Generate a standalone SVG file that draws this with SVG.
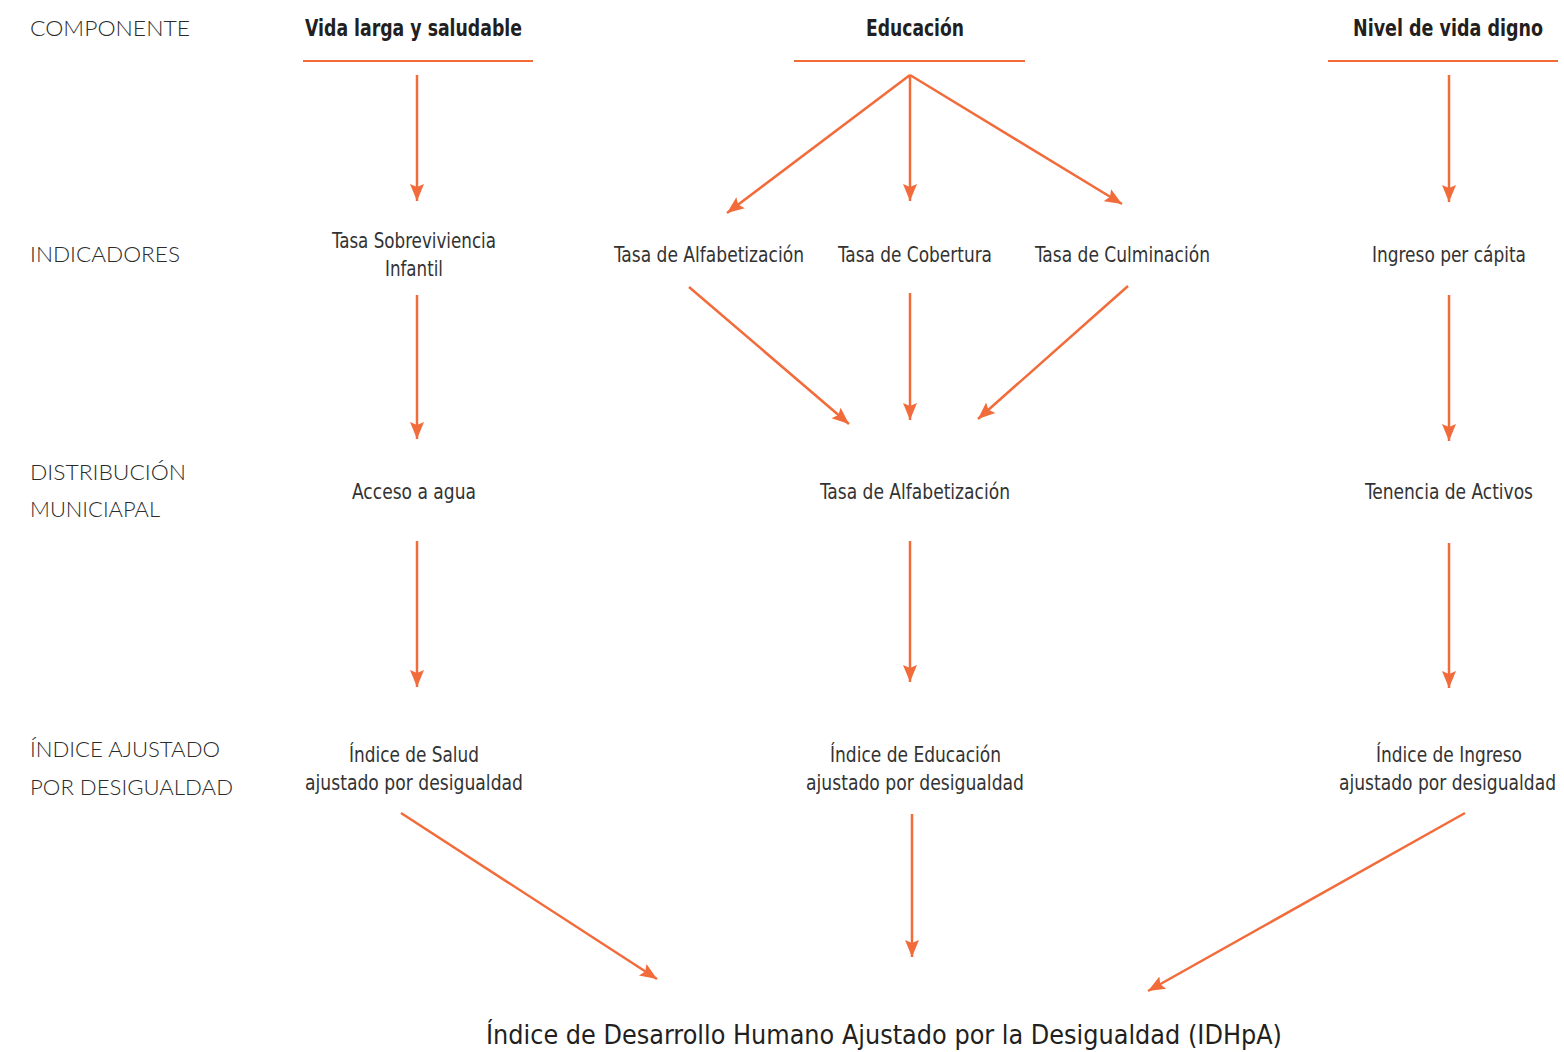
<svg xmlns="http://www.w3.org/2000/svg" width="1564" height="1052" viewBox="0 0 1564 1052">
<style>
.lab{font-family:"Lato","Open Sans",sans-serif;font-weight:300;font-size:22px;fill:#2b2b2b;}
.hd{font-family:"Liberation Sans Narrow","DejaVu Sans Condensed","Liberation Sans",sans-serif;font-weight:bold;font-size:23px;fill:#231f20;text-anchor:middle;}
.t{font-family:"Liberation Sans Narrow","DejaVu Sans Condensed","Liberation Sans",sans-serif;font-size:22px;fill:#333;text-anchor:middle;}
.big{font-family:"Liberation Sans Narrow","DejaVu Sans Condensed","Liberation Sans",sans-serif;font-size:26px;fill:#231f20;text-anchor:middle;}
.ul{stroke:#F26B3A;stroke-width:2;fill:none;}
.ar{stroke:#F26B3A;stroke-width:2.5;fill:none;marker-end:url(#ah);}
</style>
<defs>
<marker id="ah" markerUnits="userSpaceOnUse" markerWidth="18" markerHeight="16" refX="17" refY="8" orient="auto">
<path d="M0,1 L17,8 L0,15 L3,8 Z" fill="#F26B3A"/>
</marker>
</defs>
<rect width="1564" height="1052" fill="#fff"/>
<g id="left-labels">
<text class="lab" x="30" y="36" textLength="160" lengthAdjust="spacingAndGlyphs">COMPONENTE</text>
<text class="lab" x="30" y="262" textLength="150" lengthAdjust="spacingAndGlyphs">INDICADORES</text>
<text class="lab" x="30" y="480" textLength="156" lengthAdjust="spacingAndGlyphs">DISTRIBUCIÓN</text>
<text class="lab" x="30" y="517" textLength="130" lengthAdjust="spacingAndGlyphs">MUNICIAPAL</text>
<text class="lab" x="30" y="757" textLength="190" lengthAdjust="spacingAndGlyphs">ÍNDICE AJUSTADO</text>
<text class="lab" x="30" y="795" textLength="203" lengthAdjust="spacingAndGlyphs">POR DESIGUALDAD</text>
</g>
<g id="n-vida"><text class="hd" x="413.5" y="36" textLength="217" lengthAdjust="spacingAndGlyphs">Vida larga y saludable</text><line class="ul" x1="303" y1="61" x2="533" y2="61"/></g>
<g id="n-educacion"><text class="hd" x="915" y="36" textLength="98" lengthAdjust="spacingAndGlyphs">Educación</text><line class="ul" x1="794" y1="61" x2="1025" y2="61"/></g>
<g id="n-nivel"><text class="hd" x="1543" y="36" text-anchor="end" style="text-anchor:end" textLength="190" lengthAdjust="spacingAndGlyphs">Nivel de vida digno</text><line class="ul" x1="1328" y1="61" x2="1558" y2="61"/></g>
<g id="n-sobrev"><text class="t" x="414" y="248" textLength="164" lengthAdjust="spacingAndGlyphs">Tasa Sobreviviencia</text><text class="t" x="414" y="276" textLength="58" lengthAdjust="spacingAndGlyphs">Infantil</text></g>
<g id="n-alfab1"><text class="t" x="709" y="262" textLength="190" lengthAdjust="spacingAndGlyphs">Tasa de Alfabetización</text></g>
<g id="n-cobertura"><text class="t" x="915" y="262" textLength="154" lengthAdjust="spacingAndGlyphs">Tasa de Cobertura</text></g>
<g id="n-culminacion"><text class="t" x="1122.5" y="262" textLength="175" lengthAdjust="spacingAndGlyphs">Tasa de Culminación</text></g>
<g id="n-ingreso"><text class="t" x="1449" y="262" textLength="154" lengthAdjust="spacingAndGlyphs">Ingreso per cápita</text></g>
<g id="n-agua"><text class="t" x="414" y="499" textLength="124" lengthAdjust="spacingAndGlyphs">Acceso a agua</text></g>
<g id="n-alfab2"><text class="t" x="915" y="499" textLength="190" lengthAdjust="spacingAndGlyphs">Tasa de Alfabetización</text></g>
<g id="n-activos"><text class="t" x="1449" y="499" textLength="168" lengthAdjust="spacingAndGlyphs">Tenencia de Activos</text></g>
<g id="n-isalud"><text class="t" x="414" y="762" textLength="130" lengthAdjust="spacingAndGlyphs">Índice de Salud</text><text class="t" x="414" y="790" textLength="218" lengthAdjust="spacingAndGlyphs">ajustado por desigualdad</text></g>
<g id="n-ieduc"><text class="t" x="915.5" y="762" textLength="171" lengthAdjust="spacingAndGlyphs">Índice de Educación</text><text class="t" x="915" y="790" textLength="218" lengthAdjust="spacingAndGlyphs">ajustado por desigualdad</text></g>
<g id="n-iingreso"><text class="t" x="1449" y="762" textLength="146" lengthAdjust="spacingAndGlyphs">Índice de Ingreso</text><text class="t" x="1556" y="790" text-anchor="end" style="text-anchor:end" textLength="217" lengthAdjust="spacingAndGlyphs">ajustado por desigualdad</text></g>
<g id="n-idhpa"><text class="big" x="884" y="1044" textLength="796" lengthAdjust="spacingAndGlyphs">Índice de Desarrollo Humano Ajustado por la Desigualdad (IDHpA)</text></g>
<g id="connectors">
<line class="ar" x1="417" y1="75" x2="417" y2="201"/>
<line class="ar" x1="910" y1="75" x2="727" y2="213"/>
<line class="ar" x1="910" y1="75" x2="910" y2="201"/>
<line class="ar" x1="910" y1="75" x2="1122" y2="204"/>
<line class="ar" x1="1449" y1="75" x2="1449" y2="202"/>
<line class="ar" x1="417" y1="295" x2="417" y2="439"/>
<line class="ar" x1="689" y1="287" x2="849" y2="424"/>
<line class="ar" x1="910" y1="293" x2="910" y2="420"/>
<line class="ar" x1="1128" y1="286" x2="978" y2="419"/>
<line class="ar" x1="1449" y1="295" x2="1449" y2="441"/>
<line class="ar" x1="417" y1="541" x2="417" y2="687"/>
<line class="ar" x1="910" y1="541" x2="910" y2="682"/>
<line class="ar" x1="1449" y1="543" x2="1449" y2="688"/>
<line class="ar" x1="401" y1="813" x2="657" y2="979"/>
<line class="ar" x1="912" y1="814" x2="912" y2="957"/>
<line class="ar" x1="1465" y1="813" x2="1148" y2="991"/>
</g>
</svg>
